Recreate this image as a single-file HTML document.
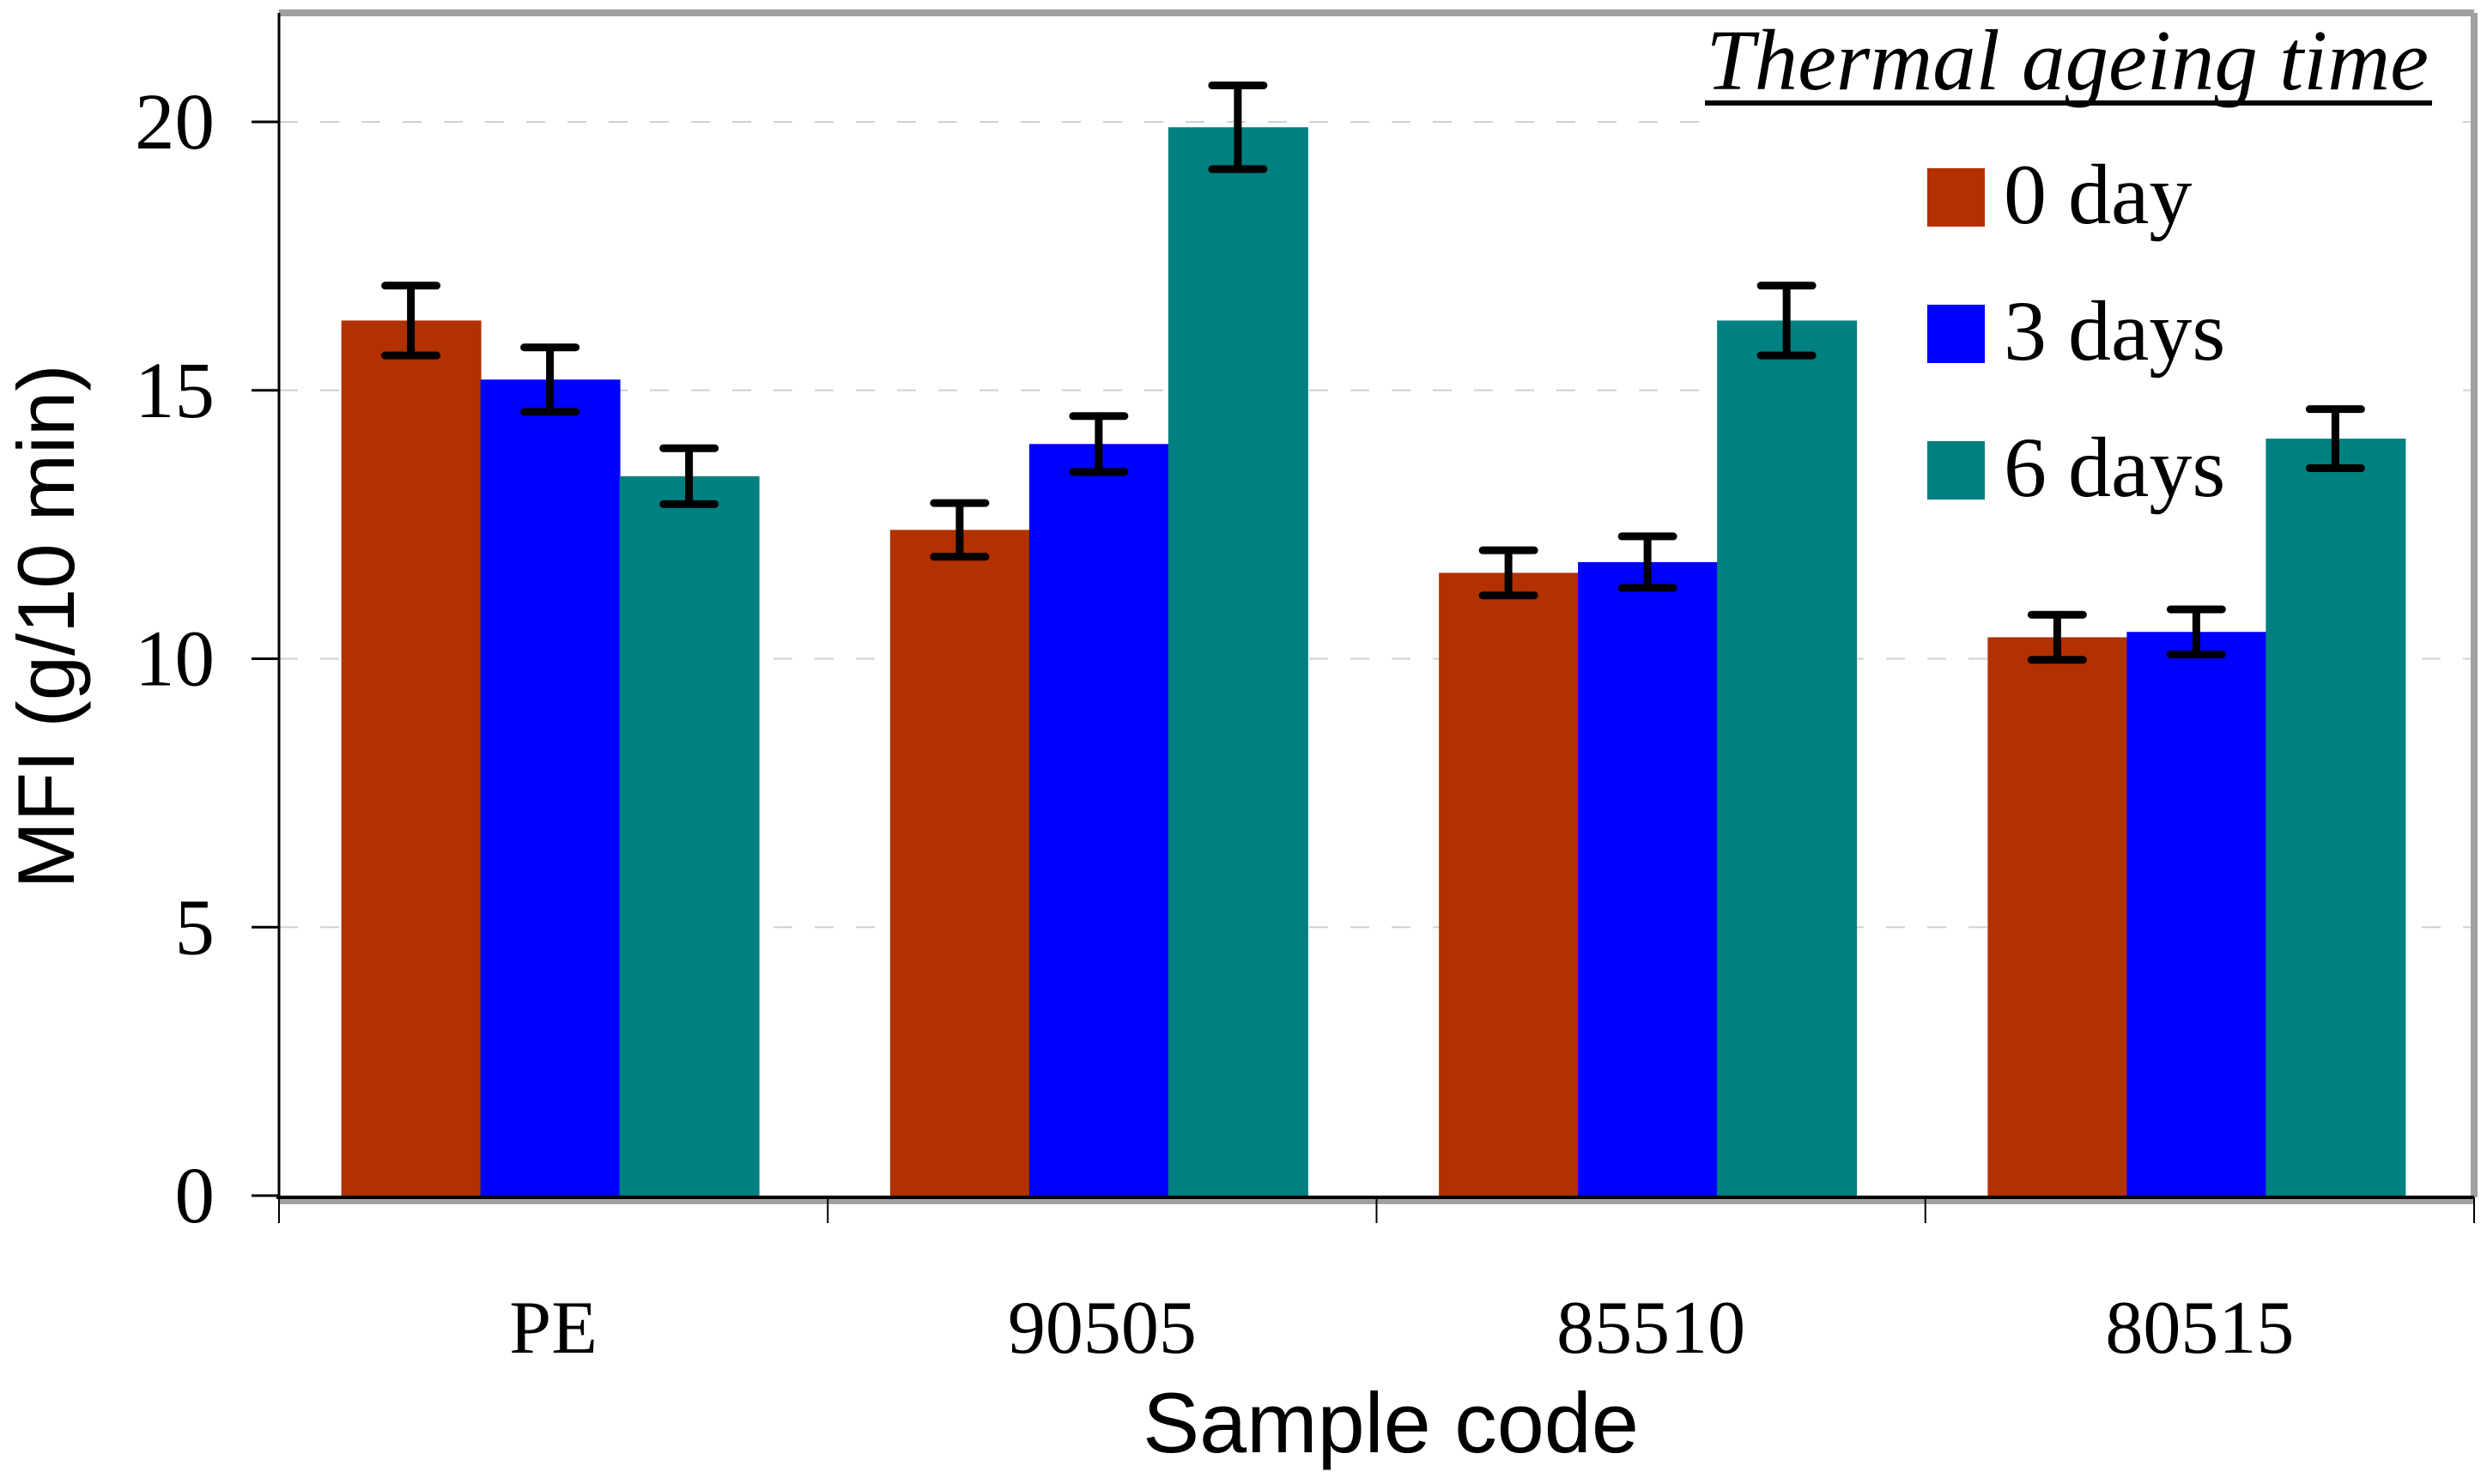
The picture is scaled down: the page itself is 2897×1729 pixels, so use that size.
<!DOCTYPE html>
<html><head><meta charset="utf-8"><style>
html,body{margin:0;padding:0;background:#fff;}
svg{display:block;}
</style></head><body>
<svg id="chart" width="2897" height="1729" viewBox="0 0 2897 1729" xmlns="http://www.w3.org/2000/svg">
<rect x="0" y="0" width="2897" height="1729" fill="#fff"/>
<g id="grid"></g>
<rect x="1980" y="30" width="880" height="580" fill="#fff"/>
<g id="bars"></g>
<g id="errs"></g>
<g id="frame">
  <line x1="325" y1="15" x2="2882" y2="15" stroke="#a0a0a0" stroke-width="8"/>
  <line x1="2882" y1="15" x2="2882" y2="1395" stroke="#a0a0a0" stroke-width="8"/>
  <line x1="325" y1="1400" x2="2882" y2="1400" stroke="#a0a0a0" stroke-width="6"/>
  <line x1="325" y1="15" x2="325" y2="1397" stroke="#000" stroke-width="3"/>
  <line x1="322" y1="1395" x2="2882" y2="1395" stroke="#000" stroke-width="4"/>
</g>
<g id="yaxis"></g>
<g id="xaxis"></g>
<text transform="translate(86,730) rotate(-90)" text-anchor="middle" font-family="Liberation Sans, sans-serif" font-size="94">MFI (g/10 min)</text>
<text x="1620" y="1692" text-anchor="middle" font-family="Liberation Sans, sans-serif" font-size="99">Sample code</text>
<g id="legend">
  <text x="2829" y="104" text-anchor="end" font-family="Liberation Serif, serif" font-style="italic" font-size="101">Thermal ageing time</text>
  <line x1="1986" y1="120" x2="2833" y2="120" stroke="#000" stroke-width="6"/>
</g>
<script>
const categories = ["PE", "90505", "85510", "80515"];
const seriesNames = ["0 day", "3 days", "6 days"];
const seriesColors = ["#b33000", "#0000ff", "#008080"];
const day0 = [16.3, 12.4, 11.6, 10.4];
const day3 = [15.2, 14.0, 11.8, 10.5];
const day6 = [13.4, 19.9, 16.3, 14.1];
const err0 = [0.65, 0.5, 0.42, 0.42];
const err3 = [0.6, 0.52, 0.48, 0.42];
const err6 = [0.52, 0.78, 0.65, 0.55];
const yTicks = [0, 5, 10, 15, 20];

const NS = "http://www.w3.org/2000/svg";
const X0 = 325, X1 = 2882, Y0 = 1393, PXU = 62.55;
const catW = (X1 - X0) / categories.length;
const barW = 162;
function yPos(v){ return Y0 - v * PXU; }
function catLeft(i){ return X0 + i * catW; }
function barX(i, s){ return catLeft(i) + (catW - 3 * barW) / 2 + s * barW - 4; }
function mk(tag, attrs, parent){ const e = document.createElementNS(NS, tag); for (const k in attrs) e.setAttribute(k, attrs[k]); parent.appendChild(e); return e; }

const grid = document.getElementById('grid');
const yaxis = document.getElementById('yaxis');
yTicks.forEach(t => {
  const y = yPos(t);
  if (t > 0) {
    const g = mk('line', {x1: X0, y1: y, x2: X1, y2: y, stroke: '#d0d0d0', 'stroke-width': 2, 'stroke-dasharray': '22 26'}, grid);
    
    
  }
  const tk = mk('line', {x1: 293, y1: y, x2: 325, y2: y, stroke: '#000', 'stroke-width': 3}, yaxis);
  
  
  const lb = mk('text', {x: 250, y: y + 31, 'text-anchor': 'end', 'font-family': 'Liberation Serif, serif', 'font-size': 93}, yaxis);
  lb.textContent = t;
  
  
});

const xaxis = document.getElementById('xaxis');
for (let i = 0; i <= categories.length; i++) {
  const x = X0 + i * catW;
  const tk = mk('line', {x1: x, y1: 1395, x2: x, y2: 1425, stroke: '#000', 'stroke-width': 2}, xaxis);
  
  
}
categories.forEach((c, i) => {
  const lb = mk('text', {x: catLeft(i) + catW / 2, y: 1576, 'text-anchor': 'middle', 'font-family': 'Liberation Serif, serif', 'font-size': 88}, xaxis);
  lb.textContent = c;
  
  
});

const bars = document.getElementById('bars');
const errs = document.getElementById('errs');
const vals = [day0, day3, day6];
const errsArr = [err0, err3, err6];
vals.forEach((arr, s) => {
  arr.forEach((v, i) => {
    const x = barX(i, s);
    const b = mk('rect', {x: x, y: yPos(v), width: barW + 1, height: Y0 - yPos(v), fill: seriesColors[s]}, bars);
    
    
    const e = errsArr[s][i];
    const cx = x + barW / 2;
    const g = mk('g', {stroke: '#000', 'stroke-width': 9, 'stroke-linecap': 'round'}, errs);
    
    
    mk('line', {x1: cx, y1: yPos(v + e), x2: cx, y2: yPos(v - e)}, g);
    mk('line', {x1: cx - 30, y1: yPos(v + e), x2: cx + 30, y2: yPos(v + e)}, g);
    mk('line', {x1: cx - 30, y1: yPos(v - e), x2: cx + 30, y2: yPos(v - e)}, g);
  });
});

const legend = document.getElementById('legend');
seriesNames.forEach((n, s) => {
  const y = 196 + s * 159;
  const sw = mk('rect', {x: 2245, y: y, width: 67, height: 68, fill: seriesColors[s]}, legend);
  
  
  const t = mk('text', {x: 2334, y: y + 64, 'font-family': 'Liberation Serif, serif', 'font-size': 100}, legend);
  t.textContent = n;
  
  
});
</script>
</svg>
</body></html>
